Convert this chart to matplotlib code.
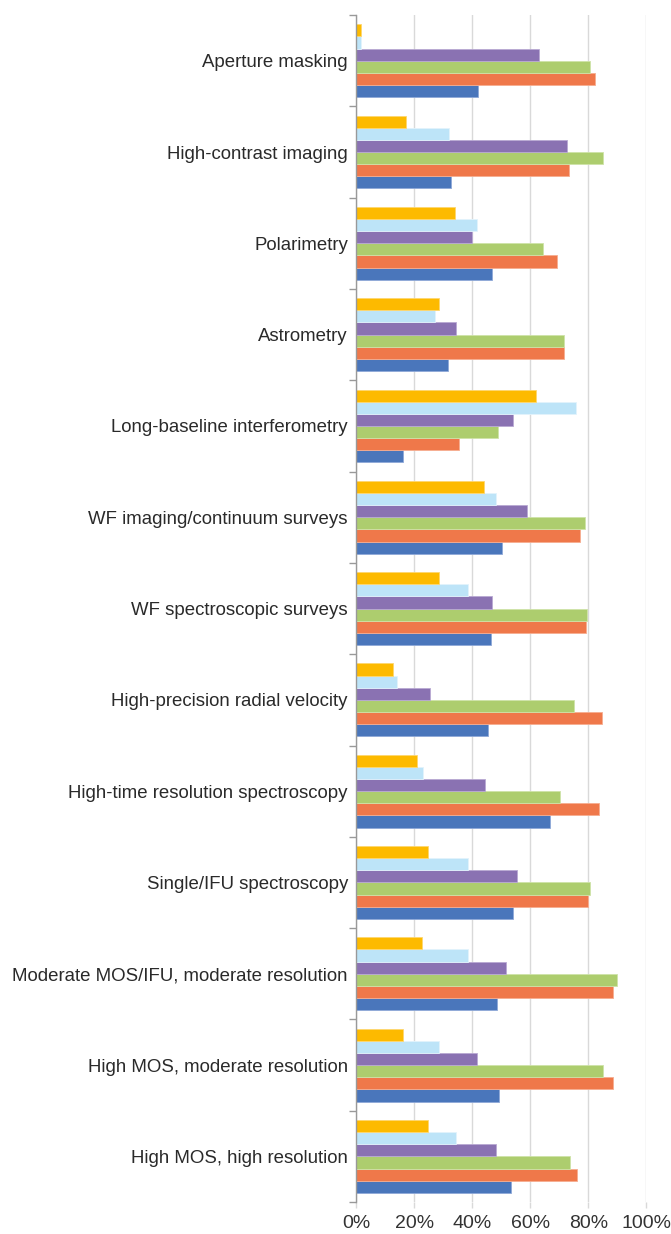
import numpy as np
import matplotlib.pyplot as plt
from matplotlib.ticker import FixedLocator

plt.rcParams['font.family'] = ['Liberation Sans', 'DejaVu Sans']

categories = ["Aperture masking", "High-contrast imaging", "Polarimetry", "Astrometry",
              "Long-baseline interferometry", "WF imaging/continuum surveys",
              "WF spectroscopic surveys", "High-precision radial velocity",
              "High-time resolution spectroscopy", "Single/IFU spectroscopy",
              "Moderate MOS/IFU, moderate resolution", "High MOS, moderate resolution",
              "High MOS, high resolution"]

# series listed bottom-to-top within each group (percent)
blue = [42.1, 32.6, 46.8, 31.7, 16.1, 50.1, 46.6, 45.5, 66.9, 54.0, 48.7, 49.1, 53.2]
orange = [82.5, 73.3, 69.3, 71.8, 35.4, 77.0, 79.4, 84.9, 83.8, 80.1, 88.5, 88.7, 76.1]
green = [80.7, 85.2, 64.4, 71.8, 49.0, 79.0, 79.5, 75.1, 70.1, 80.7, 90.1, 85.2, 73.8]
purple = [63.1, 72.8, 40.0, 34.3, 54.0, 59.0, 46.8, 25.3, 44.5, 55.3, 51.7, 41.5, 48.3]
light_blue = [1.6, 32.1, 41.8, 27.0, 75.7, 48.3, 38.6, 13.9, 23.1, 38.7, 38.7, 28.4, 34.3]
yellow = [1.6, 17.0, 34.0, 28.6, 62.0, 44.1, 28.5, 12.5, 20.8, 24.8, 22.6, 16.1, 24.6]

series = [blue, orange, green, purple, light_blue, yellow]
colors = ['#4A76BB', '#EF784A', '#ADCD6E', '#8A72B2', '#BDE4F8', '#FDBA00']
edges = ['#8FA9D8', '#F6AD90', '#CFE3A8', '#B9A9D3', '#E2F3FC', '#FED770']

xticks = [0, 20, 40, 60, 80, 100]
xtick_labels = ["0%", "20%", "40%", "60%", "80%", "100%"]

fig = plt.figure(figsize=(6.71, 12.34), dpi=100)
ax = fig.add_axes([0.531, 0.0259, 0.432, 0.9619])

n = len(categories)
y = np.arange(n)
h = 0.133
for k, (vals, c, ec) in enumerate(zip(series, colors, edges)):
    offs = (2.5 - k) * h
    ax.barh(y + offs, vals, height=h, color=c, edgecolor=ec, linewidth=0.6, zorder=2)

ax.set_xlim(0, 100)
ax.set_ylim(n - 0.5, -0.5)
ax.set_xticks(xticks)
ax.set_xticklabels(xtick_labels, fontsize=14, color='#333333')
ax.set_yticks(y)
ax.set_yticklabels(categories, fontsize=13.4, color='#2a2a2a')
ax.yaxis.set_minor_locator(FixedLocator(np.arange(n + 1) - 0.5))
ax.tick_params(axis='y', which='major', length=0, pad=6)
ax.tick_params(axis='y', which='minor', length=5, color='#999999', width=1)
ax.tick_params(axis='x', length=4, color='#D9D9D9', width=1, pad=5)

ax.grid(axis='x', color='#D9D9D9', linewidth=1, zorder=0)
ax.set_axisbelow(True)
for s in ['top', 'right', 'bottom']:
    ax.spines[s].set_visible(False)
ax.spines['left'].set_color('#999999')
ax.spines['left'].set_linewidth(1)

fig.savefig("out.png", dpi=100)
